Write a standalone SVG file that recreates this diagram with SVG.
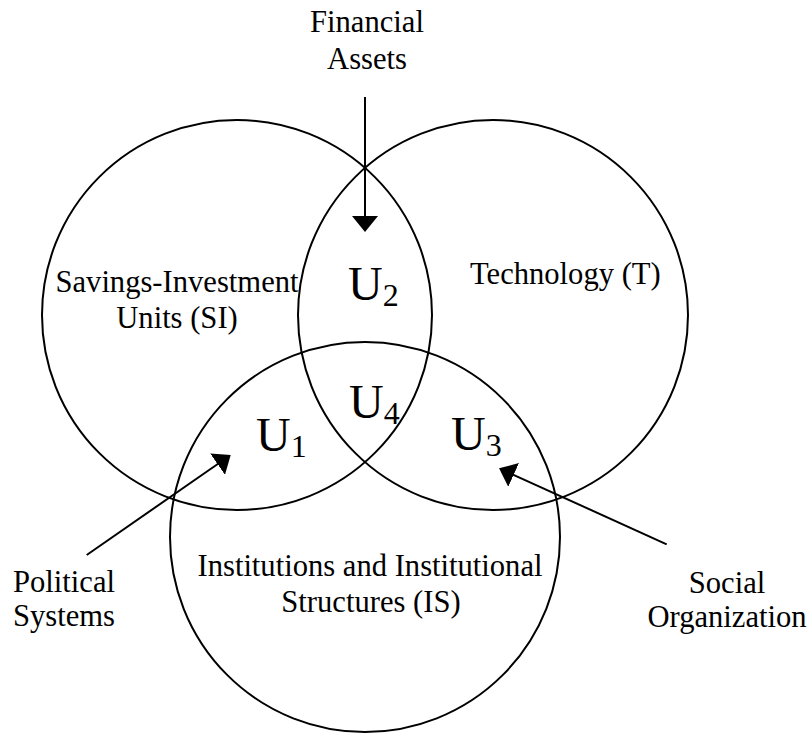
<svg xmlns="http://www.w3.org/2000/svg" width="811" height="733" viewBox="0 0 811 733">
  <style>
    .set { fill: none; stroke: #000; stroke-width: 2; }
    text { font-family: 'Liberation Serif', 'DejaVu Serif', serif; fill: #000; }
    .lbl { font-size: 30.6px; text-anchor: middle; }
    .start { text-anchor: start; }
    .u { font-size: 48px; }
    .sub { font-size: 32px; }
    .arrow { stroke: #000; stroke-width: 2; fill: none; marker-end: url(#head); }
  </style>
  <defs>
    <marker id="head" markerUnits="userSpaceOnUse" markerWidth="16" markerHeight="26" viewBox="0 0 16 26" refX="2" refY="13" orient="auto">
      <path d="M0,0 L16,13 L0,26 Z" fill="#000"/>
    </marker>
  </defs>
  <rect width="811" height="733" fill="#fff"/>

  <!-- three overlapping sets -->
  <g id="si">
    <circle class="set" cx="237" cy="315" r="195"/>
    <text class="lbl" x="177" y="292">Savings-Investment</text>
    <text class="lbl" x="177" y="328">Units (SI)</text>
  </g>
  <g id="tech">
    <circle class="set" cx="493" cy="315" r="195"/>
    <text class="lbl start" x="470" y="284">Technology (T)</text>
  </g>
  <g id="is">
    <circle class="set" cx="365" cy="537" r="195"/>
    <text class="lbl" x="370" y="576">Institutions and Institutional</text>
    <text class="lbl" x="371" y="612">Structures (IS)</text>
  </g>

  <!-- intersection regions -->
  <g id="u1"><text class="u" x="256" y="451">U<tspan class="sub" dy="6">1</tspan></text></g>
  <g id="u2"><text class="u" x="348" y="300">U<tspan class="sub" dy="6">2</tspan></text></g>
  <g id="u3"><text class="u" x="451" y="450">U<tspan class="sub" dy="6">3</tspan></text></g>
  <g id="u4"><text class="u" x="349" y="418">U<tspan class="sub" dy="6">4</tspan></text></g>

  <!-- external influences -->
  <g id="financial-assets">
    <text class="lbl" x="367" y="32">Financial</text>
    <text class="lbl" x="367" y="69">Assets</text>
  </g>
  <g id="political-systems">
    <text class="lbl" x="64" y="592">Political</text>
    <text class="lbl" x="64" y="626">Systems</text>
  </g>
  <g id="social-organization">
    <text class="lbl" x="727" y="593">Social</text>
    <text class="lbl" x="727" y="627">Organization</text>
  </g>

  <g id="connectors">
    <line class="arrow" x1="365" y1="97" x2="365" y2="218"/>
    <line class="arrow" x1="86.7" y1="555" x2="219.2" y2="463"/>
    <line class="arrow" x1="666.7" y1="544.3" x2="511.8" y2="474.1"/>
  </g>
</svg>
